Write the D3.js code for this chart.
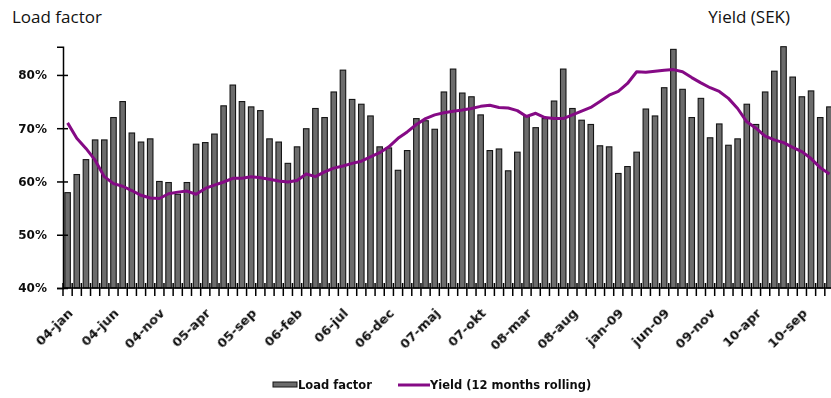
<!DOCTYPE html>
<html>
<head>
<meta charset="utf-8">
<script src="https://cdn.jsdelivr.net/npm/d3@7"></script>
<style>
  html, body { margin: 0; padding: 0; background: #fff; }
  svg { display: block; }
  .title { font-family: "Open Sans", "Noto Sans", sans-serif; font-size: 17px; fill: #111; }
  .tick-label { font-family: "DejaVu Sans", sans-serif; font-weight: bold; font-size: 12px; fill: #111; }
  .x-label { font-family: "DejaVu Sans", sans-serif; font-weight: bold; font-size: 13px; fill: #111; }
  .legend-label { font-family: "DejaVu Sans", sans-serif; font-weight: bold; font-size: 11.5px; fill: #111; }
</style>
</head>
<body>
<svg id="chart" width="831" height="398">
  <defs>
    <filter id="soft" x="-5%" y="-20%" width="110%" height="140%">
      <feGaussianBlur stdDeviation="0.35"/>
    </filter>
  </defs>
</svg>
<script>
// Monthly series, January 2004 through December 2010
const years = [2004, 2005, 2006, 2007, 2008, 2009, 2010];
const categories = years.flatMap(y => d3.range(1, 13).map(m => `${y}-${String(m).padStart(2, "0")}`));

// Cabin load factor, percent
const loadFactor = [
  57.9, 61.3, 64.1, 67.8, 67.8, 72.0, 75.0, 69.1, 67.4, 68.0, 60.0, 59.8,
  57.6, 59.8, 67.0, 67.3, 68.9, 74.2, 78.1, 75.0, 74.0, 73.3, 68.0, 67.4,
  63.4, 66.5, 69.9, 73.7, 72.0, 76.8, 80.9, 75.4, 74.5, 72.3, 66.5, 66.3,
  62.1, 65.8, 71.8, 71.4, 69.8, 76.8, 81.1, 76.6, 75.9, 72.5, 65.8, 66.1,
  62.0, 65.5, 72.3, 70.1, 71.8, 75.1, 81.1, 73.7, 71.5, 70.7, 66.7, 66.5,
  61.5, 62.8, 65.5, 73.6, 72.3, 77.6, 84.8, 77.3, 72.0, 75.6, 68.2, 70.8,
  66.8, 68.0, 74.5, 70.7, 76.8, 80.7, 85.3, 79.6, 75.9, 77.0, 72.0, 74.0
];

// Yield, 12 months rolling, on the secondary (unlabelled) axis
const yieldRolling = [
  71.0, 68.1, 66.2, 64.0, 60.9, 59.6, 59.1, 58.3, 57.4, 56.9, 56.8, 57.7,
  58.0, 58.2, 57.6, 58.7, 59.3, 59.9, 60.6, 60.6, 60.9, 60.7, 60.4, 60.1,
  59.9, 60.2, 61.4, 60.9, 61.8, 62.5, 62.9, 63.4, 63.8, 64.6, 65.4, 66.5,
  68.1, 69.3, 70.7, 71.8, 72.5, 72.9, 73.2, 73.4, 73.7, 74.1, 74.3, 73.9,
  73.8, 73.3, 72.2, 72.8, 72.0, 71.8, 71.8, 72.5, 73.2, 73.9, 75.0, 76.2,
  76.9, 78.4, 80.6, 80.5, 80.7, 80.9, 81.0, 80.6, 79.5, 78.5, 77.6, 76.9,
  75.6, 73.7, 71.2, 70.0, 68.5, 67.8, 67.3, 66.4, 65.6, 64.3, 62.6, 61.4
];

// Category axis labels (every fifth month)
const tickCategories = ["2004-01", "2004-06", "2004-11", "2005-04", "2005-09", "2006-02", "2006-07", "2006-12",
  "2007-05", "2007-10", "2008-03", "2008-08", "2009-01", "2009-06", "2009-11", "2010-04", "2010-09"];
const tickLabels = ["04-jan", "04-jun", "04-nov", "05-apr", "05-sep", "06-feb", "06-jul", "06-dec",
  "07-maj", "07-okt", "08-mar", "08-aug", "jan-09", "jun-09", "09-nov", "10-apr", "10-sep"];

const yTicks = [0.4, 0.5, 0.6, 0.7, 0.8];

const svg = d3.select("#chart");

const plot = { left: 63, right: 834, top: 46.7, bottom: 288 };

const x = d3.scaleBand()
  .domain(categories)
  .range([plot.left, plot.right])
  .paddingInner(0.4)
  .paddingOuter(0.2);

const y = d3.scaleLinear().domain([0.40, 0.853]).range([plot.bottom, plot.top]);
const yRight = d3.scaleLinear().domain([40, 85.3]).range([plot.bottom, plot.top]);

const cx = c => x(c) + x.bandwidth() / 2;

// Bars
svg.append("g")
  .selectAll("rect")
  .data(categories)
  .join("rect")
  .attr("x", c => x(c))
  .attr("width", x.bandwidth())
  .attr("y", (c, i) => y(loadFactor[i] / 100))
  .attr("height", (c, i) => plot.bottom - y(loadFactor[i] / 100))
  .attr("fill", "#6c6c6c")
  .attr("stroke", "#151515")
  .attr("stroke-width", 1.1);

// Y axis
const yAxis = svg.append("g").attr("transform", `translate(${plot.left},0)`)
  .call(d3.axisLeft(y).tickValues(yTicks).tickFormat(d3.format(".0%")).tickSize(6).tickPadding(10));
yAxis.select(".domain").attr("stroke", "#000").attr("stroke-width", 1.5);
yAxis.selectAll(".tick line").attr("stroke", "#000").attr("stroke-width", 1.5).attr("x2", -6);
yAxis.selectAll(".tick").append("line").attr("x1", 0).attr("x2", 5).attr("stroke", "#000").attr("stroke-width", 1.5);
yAxis.selectAll(".tick text").attr("class", "tick-label").attr("font-size", null).attr("font-family", null)
  .attr("filter", "url(#soft)");

// X axis with cross ticks between categories
const xAxisG = svg.append("g");
xAxisG.append("line")
  .attr("x1", plot.left).attr("x2", plot.right)
  .attr("y1", plot.bottom).attr("y2", plot.bottom)
  .attr("stroke", "#000").attr("stroke-width", 1.5);
const step = x.step();
xAxisG.selectAll("line.xt")
  .data(categories)
  .join("line")
  .attr("class", "xt")
  .attr("x1", c => x(c) - step * x.paddingInner() / 2)
  .attr("x2", c => x(c) - step * x.paddingInner() / 2)
  .attr("y1", plot.bottom - 5).attr("y2", plot.bottom + 8)
  .attr("stroke", "#000").attr("stroke-width", 1.5);

xAxisG.selectAll("text")
  .data(tickCategories)
  .join("text")
  .attr("class", "x-label")
  .attr("text-anchor", "end")
  .attr("filter", "url(#soft)")
  .attr("transform", c => `translate(${cx(c) + 6},${plot.bottom + 26}) rotate(-45)`)
  .text((c, i) => tickLabels[i]);

// Yield line
svg.append("path")
  .datum(categories)
  .attr("fill", "none")
  .attr("stroke", "#850a85")
  .attr("stroke-width", 3)
  .attr("stroke-linejoin", "round")
  .attr("d", d3.line().x(c => cx(c)).y((c, i) => yRight(yieldRolling[i])));

// Titles
svg.append("text").attr("class", "title").attr("x", 12).attr("y", 23).text("Load factor");
svg.append("text").attr("class", "title").attr("x", 790).attr("y", 23).attr("text-anchor", "end").text("Yield (SEK)");

// Legend
const legend = svg.append("g");
legend.append("rect").attr("x", 273).attr("y", 382).attr("width", 24).attr("height", 5)
  .attr("fill", "#6c6c6c").attr("stroke", "#151515").attr("stroke-width", 1);
legend.append("text").attr("class", "legend-label").attr("x", 298).attr("y", 389)
  .attr("filter", "url(#soft)").text("Load factor");
legend.append("line").attr("x1", 398).attr("x2", 430).attr("y1", 385).attr("y2", 385)
  .attr("stroke", "#850a85").attr("stroke-width", 3);
legend.append("text").attr("class", "legend-label").attr("x", 430).attr("y", 389)
  .attr("filter", "url(#soft)").text("Yield (12 months rolling)");
</script>
</body>
</html>
